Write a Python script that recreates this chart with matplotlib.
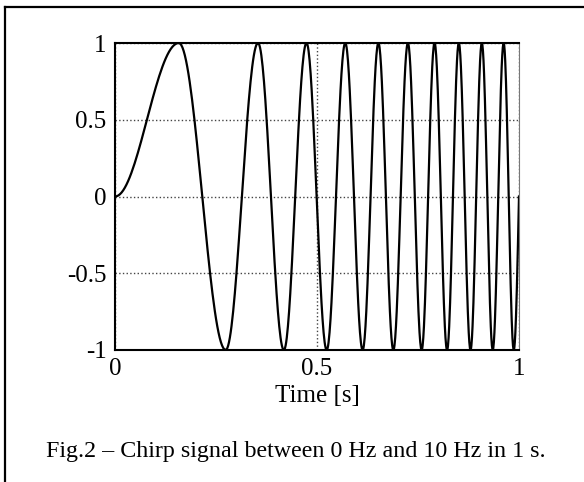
import matplotlib.pyplot as plt
import numpy as np

# extrema of the chirp (time in s)
start_point = (0.0, 0.0)
end_point = (1.0, 0.0)
peak_times = [0.158, 0.354, 0.474, 0.570, 0.652, 0.725, 0.791, 0.851, 0.908, 0.962]
trough_times = [0.274, 0.418, 0.524, 0.613, 0.689, 0.759, 0.822, 0.880, 0.935, 0.987]

x_ticks = [0, 0.5, 1]
x_tick_labels = ["0", "0.5", "1"]
y_ticks = [-1, -0.5, 0, 0.5, 1]
y_tick_labels = ["-1", "-0.5", "0", "0.5", "1"]
x_label = "Time [s]"
caption = "Fig.2 \u2013 Chirp signal between 0 Hz and 10 Hz in 1 s."


def build_curve(n_per_segment=40):
    """Join the extrema with smooth half-wave segments."""
    knots = [start_point]
    knots += [(t, 1.0) for t in peak_times]
    knots += [(t, -1.0) for t in trough_times]
    knots.sort()
    knots.append(end_point)
    ts, ys = [], []
    for (t0, y0), (t1, y1) in zip(knots[:-1], knots[1:]):
        s = np.linspace(0, 1, n_per_segment)
        if (t1, y1) == end_point:
            shape = 1 - np.cos(np.pi / 2 * s)
        else:
            shape = (1 - np.cos(np.pi * s)) / 2
        ts.append(t0 + (t1 - t0) * s)
        ys.append(y0 + (y1 - y0) * shape)
    return np.concatenate(ts), np.concatenate(ys)


plt.rcParams["font.family"] = ["Liberation Serif", "DejaVu Serif"]

W, H = 584, 482
fig = plt.figure(figsize=(W / 100, H / 100), dpi=100)

# outer frame (only left and top edges show in the picture)
fig.add_artist(plt.Line2D([5 / W, 5 / W], [0, 1 - 7 / H], color="black", lw=1.6))
fig.add_artist(plt.Line2D([5 / W, 1], [1 - 7 / H, 1 - 7 / H], color="black", lw=1.6))

ax = fig.add_axes([115 / W, 1 - 350 / H, 404 / W, 307 / H])
t, y = build_curve()
ax.plot(t, y, color="black", lw=1.6)

ax.set_xlim(0, 1)
ax.set_ylim(-1, 1)
ax.set_xticks(x_ticks)
ax.set_xticklabels(x_tick_labels)
ax.set_yticks(y_ticks)
ax.set_yticklabels(y_tick_labels)
ax.tick_params(length=0, labelsize=18)
ax.tick_params(axis="y", pad=6)
ax.tick_params(axis="x", pad=6)
ax.grid(True, linestyle=":", color="#444444", lw=1.0)
ax.set_xlabel(x_label, fontsize=18, labelpad=3)

for side in ["left", "bottom", "top"]:
    ax.spines[side].set_linewidth(1.5)
ax.spines["right"].set_linewidth(0.8)
ax.spines["right"].set_color("#777777")

fig.text(296 / W, 1 - 452 / H, caption, fontsize=17.3, ha="center", va="center")

fig.savefig("out.png", dpi=100)
